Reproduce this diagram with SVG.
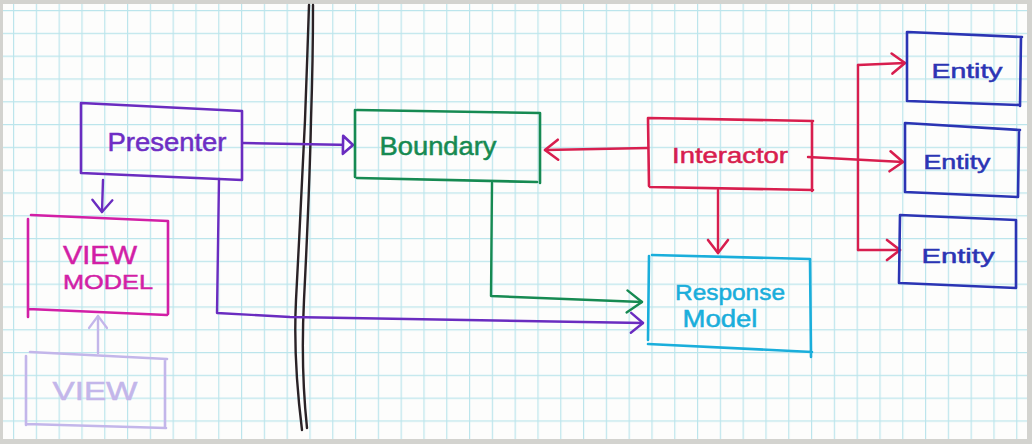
<svg xmlns="http://www.w3.org/2000/svg" width="1032" height="444" viewBox="0 0 1032 444">
<style>
.box{fill:none;stroke-width:2.6;stroke-linecap:round;stroke-linejoin:round}
.ln{fill:none;stroke-width:2.4;stroke-linecap:round;stroke-linejoin:round}
.t{font-family:"Liberation Sans","DejaVu Sans",sans-serif;text-anchor:middle;stroke-width:0.5}
.purple{stroke:#6a2cc0}
.magenta{stroke:#d21fa6}
.faint{stroke:#c3b6ea}
.green{stroke:#168a52}
.red{stroke:#d81e4e}
.cyan{stroke:#1aaedb}
.blue{stroke:#2b34b4}
</style>
<defs>
<pattern id="grid" patternUnits="userSpaceOnUse" x="13" y="10" width="22.8" height="22.8">
<path d="M0.6,0 V22.8 M0,0.6 H22.8" stroke="#bce5ec" stroke-width="1.2" fill="none"/>
</pattern>
<marker id="aPurple" markerUnits="userSpaceOnUse" viewBox="-14 -14 16 28" markerWidth="16" markerHeight="28" refX="0" refY="0" orient="auto" overflow="visible">
<path d="M-12,-10 L0,0 L-12,10" fill="none" stroke="#6a2cc0" stroke-width="2.4" stroke-linecap="round" stroke-linejoin="round"/>
</marker>
<marker id="aFaint" markerUnits="userSpaceOnUse" viewBox="-14 -14 16 28" markerWidth="16" markerHeight="28" refX="0" refY="0" orient="auto" overflow="visible">
<path d="M-12,-9 L0,0 L-12,9" fill="none" stroke="#c3b6ea" stroke-width="2.2" stroke-linecap="round" stroke-linejoin="round"/>
</marker>
<marker id="aGreen" markerUnits="userSpaceOnUse" viewBox="-14 -14 16 28" markerWidth="16" markerHeight="28" refX="0" refY="0" orient="auto" overflow="visible">
<path d="M-15,-11 L0,0 L-15,11" fill="none" stroke="#168a52" stroke-width="2.4" stroke-linecap="round" stroke-linejoin="round"/>
</marker>
<marker id="aRed" markerUnits="userSpaceOnUse" viewBox="-14 -14 16 28" markerWidth="16" markerHeight="28" refX="0" refY="0" orient="auto" overflow="visible">
<path d="M-13,-10 L0,0 L-13,10" fill="none" stroke="#d81e4e" stroke-width="2.6" stroke-linecap="round" stroke-linejoin="round"/>
</marker>
<marker id="tPurple" markerUnits="userSpaceOnUse" viewBox="-14 -14 16 28" markerWidth="16" markerHeight="28" refX="0" refY="0" orient="auto" overflow="visible">
<path d="M-10,-9 L0,0 L-10,9 Z" fill="#ffffff" stroke="#6a2cc0" stroke-width="2.6" stroke-linejoin="round"/>
</marker>
</defs>

<rect x="0" y="0" width="1032" height="444" fill="#d3d3cf"/>
<rect x="3" y="4" width="1024" height="435" fill="#fdfdfc"/>
<rect x="3" y="4" width="1024" height="435" fill="url(#grid)"/>

<g id="divider">
<path class="ln" stroke="#2a2226" stroke-width="2" d="M309,5 C308,40 306,90 305,120 C303,170 299,240 296,300 C294,340 297,390 302,430"/>
<path class="ln" stroke="#2a2226" stroke-width="2" d="M313,5 C313,40 312,90 311,120 C310,170 307,240 304,300 C302,340 303,390 307,428"/>
</g>

<g id="connectors">
<path class="ln purple" d="M243,143 L353,145" marker-end="url(#tPurple)"/>
<path class="ln purple" d="M103,180 L102,212" marker-end="url(#aPurple)"/>
<path class="ln faint" d="M98,353 L98,316" marker-end="url(#aFaint)"/>
<path class="ln purple" d="M219,179 L217,313 L290,317 L643,323" marker-end="url(#aPurple)"/>
<path class="ln green" d="M492,183 L491,296 L642,302" marker-end="url(#aGreen)"/>
<path class="ln red" d="M648,148 L545,150" marker-end="url(#aRed)"/>
<path class="ln red" d="M718,190 L718,253" marker-end="url(#aRed)"/>
<path class="ln red" d="M808,157 L903,162" marker-end="url(#aRed)"/>
<path class="ln red" d="M858,65 L858,250"/>
<path class="ln red" d="M858,65 L905,63" marker-end="url(#aRed)"/>
<path class="ln red" d="M858,250 L900,250" marker-end="url(#aRed)"/>
</g>

<g id="presenter">
<path class="box purple" d="M81,103 L242,111 M81,103 L81,173 M242,111 L242,180 M81,173 L242,180"/>
<text class="t" x="167" y="151" font-size="26" fill="#6e2ec4" stroke="#6e2ec4" textLength="119" lengthAdjust="spacingAndGlyphs">Presenter</text>
</g>

<g id="view-model">
<path class="box magenta" d="M31,215 L168,221 M28,219 L28,317 M168,221 L168,314 M28,309 L167,315"/>
<text class="t" x="100" y="264" font-size="26" fill="#d21fa6" stroke="#d21fa6" textLength="74" lengthAdjust="spacingAndGlyphs">VIEW</text>
<text class="t" x="108" y="289" font-size="21" fill="#d21fa6" stroke="#d21fa6" textLength="90" lengthAdjust="spacingAndGlyphs">MODEL</text>
</g>

<g id="view">
<path class="box faint" d="M30,352 L167,359 M26,356 L26,425 M165,360 L165,428 M26,424 L166,428"/>
<text class="t" x="95" y="400" font-size="25" fill="#c3b6ea" stroke="#c3b6ea" textLength="85" lengthAdjust="spacingAndGlyphs">VIEW</text>
</g>

<g id="boundary">
<path class="box green" d="M357,110 L540,113 M355,110 L355,177 M540,113 L540,183 M357,178 L537,182"/>
<text class="t" x="438" y="155" font-size="25" fill="#168a52" stroke="#168a52" textLength="117" lengthAdjust="spacingAndGlyphs">Boundary</text>
</g>

<g id="interactor">
<path class="box red" d="M648,118 L813,121 M648,118 L649,186 M812,121 L812,191 M650,187 L813,190"/>
<text class="t" x="730" y="163" font-size="22" fill="#d81e4e" stroke="#d81e4e" textLength="116" lengthAdjust="spacingAndGlyphs">Interactor</text>
</g>

<g id="response-model">
<path class="box cyan" d="M652,255 L810,259 M649,256 L648,340 M810,259 L811,357 M648,344 L812,352"/>
<text class="t" x="730" y="300" font-size="22" fill="#1aaedb" stroke="#1aaedb" textLength="110" lengthAdjust="spacingAndGlyphs">Response</text>
<text class="t" x="720" y="327" font-size="23" fill="#1aaedb" stroke="#1aaedb" textLength="75" lengthAdjust="spacingAndGlyphs">Model</text>
</g>

<g id="entity-1">
<path class="box blue" d="M908,32 L1022,37 M907,32 L907,101 M1021,37 L1020,106 M908,101 L1020,105"/>
<text class="t" x="967" y="78" font-size="20" fill="#2b34b4" stroke="#2b34b4" textLength="71" lengthAdjust="spacingAndGlyphs">Entity</text>
</g>

<g id="entity-2">
<path class="box blue" d="M905,123 L1020,130 M905,123 L905,192 M1019,130 L1018,197 M905,192 L1018,197"/>
<text class="t" x="957" y="169" font-size="20" fill="#2b34b4" stroke="#2b34b4" textLength="67" lengthAdjust="spacingAndGlyphs">Entity</text>
</g>

<g id="entity-3">
<path class="box blue" d="M900,215 L1016,220 M900,215 L899,283 M1016,220 L1016,288 M900,283 L1016,288"/>
<text class="t" x="958" y="263" font-size="20" fill="#2b34b4" stroke="#2b34b4" textLength="73" lengthAdjust="spacingAndGlyphs">Entity</text>
</g>
</svg>
